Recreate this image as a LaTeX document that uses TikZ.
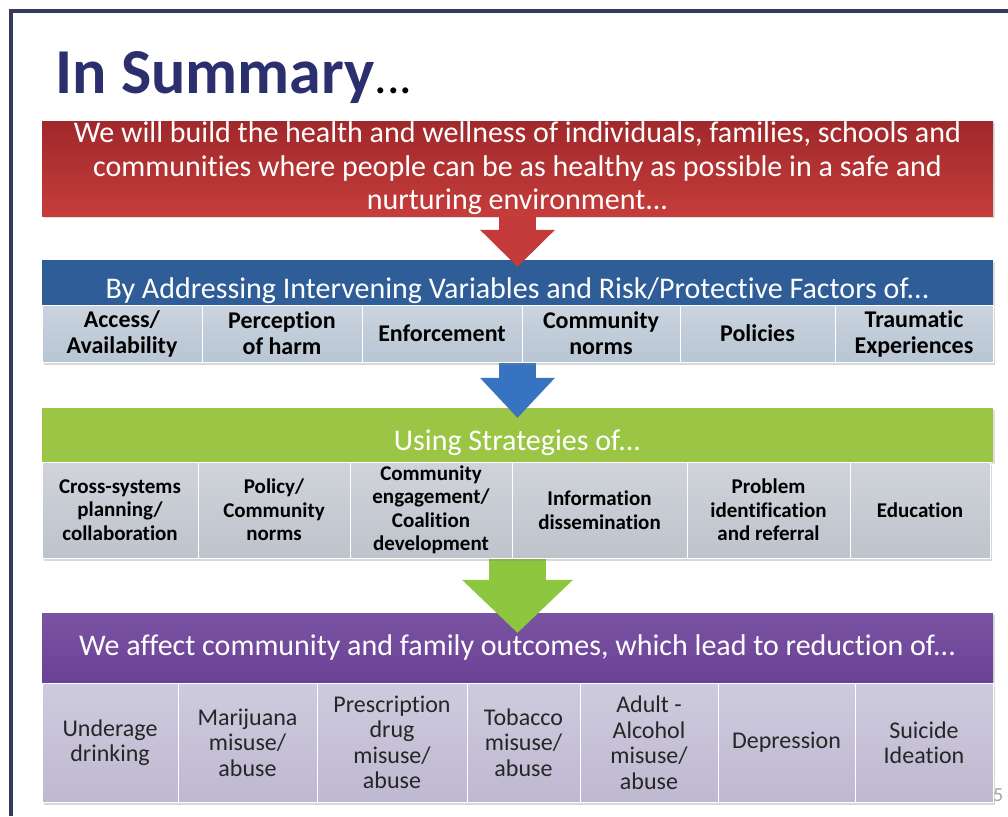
\documentclass[tikz,border=0pt]{standalone}
\usepackage{fontspec}
\setmainfont[Ligatures=NoCommon]{Carlito}
\usetikzlibrary{arrows.meta, positioning, shadows}
\definecolor{titlenavy}{HTML}{2B2F6E}
\definecolor{framenavy}{HTML}{363B5C}
\definecolor{goaltop}{HTML}{A0282B}
\definecolor{goalbot}{HTML}{C53D3B}
\definecolor{goalred}{HTML}{C43A3A}
\definecolor{factorblue}{HTML}{2E5D98}
\definecolor{factorarr}{HTML}{3773C0}
\definecolor{factortop}{HTML}{CBD4DF}
\definecolor{factorbot}{HTML}{B8C5D3}
\definecolor{stratgreen}{HTML}{9BC544}
\definecolor{stratarr}{HTML}{8DC63F}
\definecolor{strattop}{HTML}{D0D3DA}
\definecolor{stratbot}{HTML}{BEC4CC}
\definecolor{outtop}{HTML}{7B53A3}
\definecolor{outbot}{HTML}{6A4195}
\definecolor{outcelltop}{HTML}{CFCBDE}
\definecolor{outcellbot}{HTML}{BEB8D1}

\begin{document}
\begin{tikzpicture}[
    x=1pt, y=-1pt,
    band/.style={rectangle, minimum width=951pt, inner sep=0pt, text=white, font=\fontsize{30}{33.5}\selectfont,
        drop shadow={shadow xshift=1.5pt, shadow yshift=-2pt, opacity=0.25}},
    cell/.style={rectangle, draw=white, line width=1pt, inner sep=2pt, align=center,
        drop shadow={shadow xshift=2pt, shadow yshift=-3pt, opacity=0.3}},
    factorcell/.style={cell, top color=factortop, bottom color=factorbot, minimum height=57pt, font=\bfseries\fontsize{24}{26}\selectfont},
    stratcell/.style={cell, top color=strattop, bottom color=stratbot, minimum height=96pt, font=\bfseries\fontsize{21}{23.5}\selectfont},
    outcell/.style={cell, top color=outcelltop, bottom color=outcellbot, minimum height=119pt, text=black!85, font=\fontsize{24}{25.5}\selectfont},
    goalarrow/.style={line width=37pt, draw=goalred, -{Triangle[width=75pt, length=37pt, line width=0pt, fill=goalred]}},
    factorarrow/.style={line width=37pt, draw=factorarr, -{Triangle[width=75pt, length=40pt, line width=0pt, fill=factorarr]}},
    stratarrow/.style={line width=57pt, draw=stratarr, -{Triangle[width=111pt, length=53pt, line width=0pt, fill=stratarr]}}
]

\useasboundingbox (0,0) rectangle (1008,816);
\fill[white] (0,0) rectangle (1008,816);

% Slide frame and title
\draw[framenavy, line width=4pt] (1008,11) -- (11,11) -- (11,816);
\node[anchor=base west, inner sep=0pt, text=titlenavy, font=\bfseries\fontsize{64}{70}\selectfont] (title) at (55,93)
    {In Summary\textcolor{black}{\mdseries\fontsize{50}{56}\selectfont...}};

% Four bands
\node[band, top color=goaltop, bottom color=goalbot, minimum height=95pt, align=center] (goal) at (517.5,168.5)
    {We will build the health and wellness of individuals, families, schools and\\
     communities where people can be as healthy as possible in a safe and\\
     nurturing environment...};
\node[band, fill=factorblue, text height=38pt, text depth=7pt] (factors) at (517.5,282.5)
    {By Addressing Intervening Variables and Risk/Protective Factors of...};
\node[band, fill=stratgreen, text height=42pt, text depth=12pt] (strategies) at (517.5,435)
    {Using Strategies of...};
\node[band, top color=outtop, bottom color=outbot, text height=42pt, text depth=28pt] (outcomes) at (517.5,648)
    {We affect community and family outcomes, which lead to reduction of...};

% Arrows between bands
\draw[goalarrow, shorten >=-7pt] (goal.south) -- (factors.north);
\draw[factorarrow, shorten >=-10pt] (factors.south) -- (strategies.north);
\draw[stratarrow, shorten >=-20pt] (strategies.south) -- (outcomes.north);

% Intervening variables
\node[factorcell, minimum width=160pt] (access) at (122,333.5) {Access/\\Availability};
\node[factorcell, minimum width=160pt] (perception) at (282,333.5) {Perception\\of harm};
\node[factorcell, minimum width=160pt] (enforcement) at (442,333.5) {Enforcement};
\node[factorcell, minimum width=158pt] (commnorms) at (601,333.5) {Community\\norms};
\node[factorcell, minimum width=155pt] (policies) at (757.5,333.5) {Policies};
\node[factorcell, minimum width=158pt] (trauma) at (914,333.5) {Traumatic\\Experiences};

% Strategies
\node[stratcell, minimum width=156pt] (crosssys) at (120,510) {Cross-systems\\planning/\\collaboration};
\node[stratcell, minimum width=152pt] (policy) at (274,510) {Policy/\\Community\\norms};
\node[stratcell, minimum width=162pt] (engage) at (431,510) {Community\\engagement/\\Coalition\\development};
\node[stratcell, minimum width=175pt] (infodiss) at (599.5,510) {Information\\dissemination};
\node[stratcell, minimum width=163pt] (probid) at (768.5,510) {Problem\\identification\\and referral};
\node[stratcell, minimum width=140pt] (education) at (920,510) {Education};

% Outcomes
\node[outcell, minimum width=136pt] (underage) at (110,742.5) {Underage\\drinking};
\node[outcell, minimum width=139pt] (marijuana) at (247.5,742.5) {Marijuana\\misuse/\\abuse};
\node[outcell, minimum width=150pt] (rxdrug) at (392,742.5) {Prescription\\drug\\misuse/\\abuse};
\node[outcell, minimum width=113pt] (tobacco) at (523.5,742.5) {Tobacco\\misuse/\\abuse};
\node[outcell, minimum width=138pt] (alcohol) at (649,742.5) {Adult -\\Alcohol\\misuse/\\abuse};
\node[outcell, minimum width=137pt] (depression) at (786.5,742.5) {Depression};
\node[outcell, minimum width=138pt] (suicide) at (924,742.5) {Suicide\\Ideation};

\node[anchor=west, inner sep=0pt, text=black!35, font=\fontsize{20}{24}\selectfont] (pagenum) at (993,795) {5};

\end{tikzpicture}
\end{document}
